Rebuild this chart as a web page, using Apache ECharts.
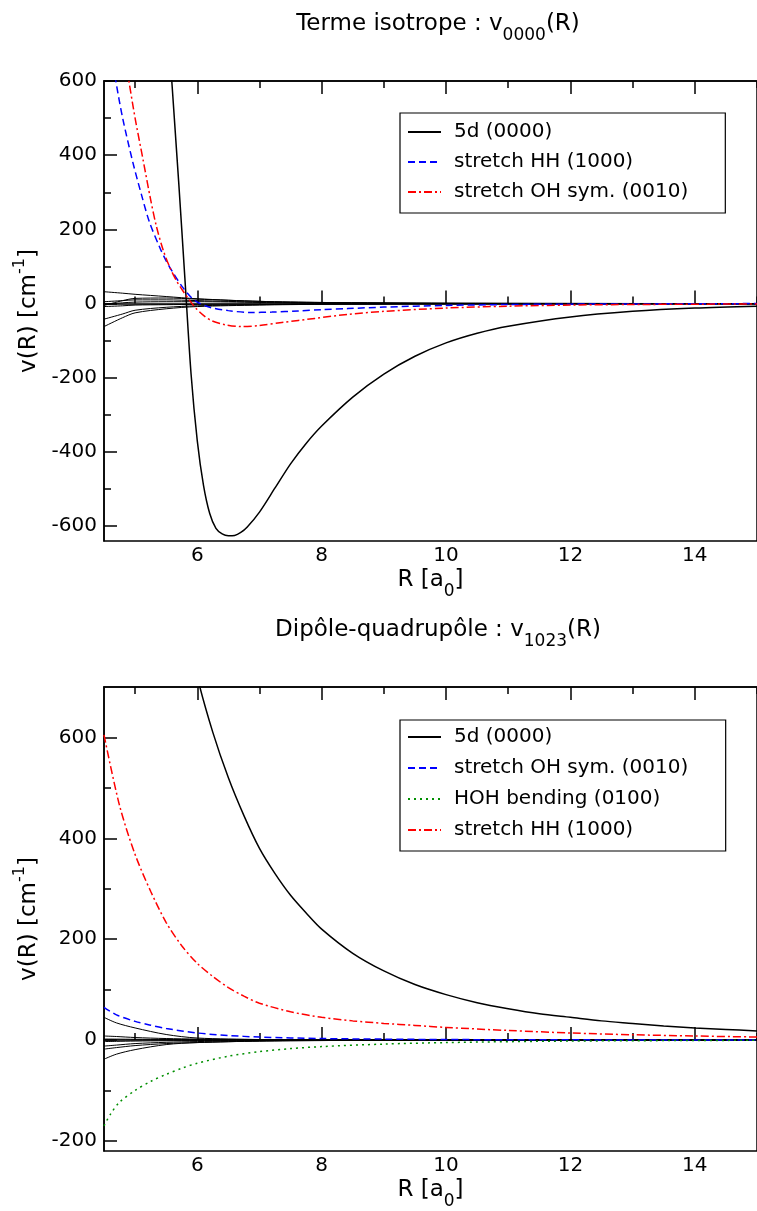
<!DOCTYPE html>
<html>
<head>
<meta charset="utf-8">
<script src="https://cdn.jsdelivr.net/npm/echarts@6/dist/echarts.min.js"></script>
<style>
html,body{margin:0;padding:0;background:#fff;}
#chart{width:757px;height:1211px;}
</style>
</head>
<body>
<div id="chart"></div>
<script>
// ---------------- DATA ----------------
// tick labels
const X_LABELS = [6, 8, 10, 12, 14];
const X_MINOR = [5, 7, 9, 11, 13, 15];
const Y_TOP_LABELS = [-600, -400, -200, 0, 200, 400, 600];
const Y_TOP_MINOR = [-500, -300, -100, 100, 300, 500];
const Y_BOT_LABELS = [-200, 0, 200, 400, 600];
const Y_BOT_MINOR = [-100, 100, 300, 500];

// ---- Top panel: Terme isotrope v0000(R)
const TOP_5D_R = [5.45, 5.59, 5.7, 5.8, 5.9, 6.0, 6.1, 6.2, 6.3, 6.4, 6.5, 6.6, 6.7, 6.8, 7.0, 7.25, 7.5, 7.75, 8.0, 8.5, 9.0, 9.5, 10, 10.5, 11, 12, 13, 14, 15];
const TOP_5D_V = [960, 600, 330, 70, -190, -370, -490, -566, -606, -621, -626, -625, -617, -603, -562, -497, -432, -377, -330, -252, -190, -142, -106, -80, -61, -36, -21, -12, -7];
const TOP_HH_R = [4.5, 4.69, 4.8, 4.965, 5.1, 5.23, 5.4, 5.5, 5.6, 5.76, 5.9, 6.0, 6.2, 6.5, 6.85, 7.2, 7.62, 8.0, 8.42, 9, 10, 11, 12, 13, 15];
const TOP_HH_V = [790, 600, 500, 380, 295, 220, 150, 115, 86, 45, 17, 4, -10, -19, -24, -23, -20, -16.5, -13.5, -9.5, -5, -2.5, -1.5, -1, 0];
const TOP_OH_R = [4.7, 4.9, 5.0, 5.13, 5.25, 5.34, 5.45, 5.56, 5.67, 5.77, 5.87, 5.97, 6.1, 6.24, 6.45, 6.72, 7.0, 7.36, 7.89, 8.42, 9, 10, 11, 12, 13, 15];
const TOP_OH_V = [800, 600, 500, 386, 280, 210, 145, 97, 60, 34, 10, -11, -32, -47, -57, -62, -59, -51, -40, -29, -21, -12, -7, -4, -2.5, -1];
// thin black lines (other components)
const TOP_THIN_R = [4.5, 4.8, 5.0, 5.5, 6.0, 7.0, 8.0, 10, 15];
const TOP_THIN_1 = [32, 28, 25, 19, 13, 6, 3, 1, 0];
const TOP_THIN_2 = [5, 8, 10, 10, 8, 4, 2, 0.5, 0];
const TOP_THIN_3 = [-5, 8, 14, 15, 12, 6, 3, 1, 0];
const TOP_THIN_4 = [-2, 2, 4, 5, 5, 3, 1, 0, 0];
const TOP_THIN_5 = [-42, -28, -18, -10, -6, -3, -1, 0, 0];
const TOP_THIN_6 = [-62, -38, -25, -14, -8, -4, -2, -0.5, 0];
const TOP_THIN_7 = [-8, -6, -4, -3, -2, -1.5, -1, -0.3, 0];

// ---- Bottom panel: Dipole-quadrupole v1023(R)
const BOT_5D_R = [5.75, 6.0, 6.25, 6.5, 6.75, 7.0, 7.25, 7.5, 7.75, 8.0, 8.5, 9.0, 9.5, 10, 10.5, 11, 11.5, 12, 12.5, 13, 13.5, 14, 14.5, 15];
const BOT_5D_V = [860, 720, 610, 520, 445, 380, 330, 287, 252, 220, 172, 137, 110, 90, 74, 62, 52, 45, 38, 33, 28, 24, 21, 18];
const BOT_OH_R = [4.5, 4.7, 5.0, 5.23, 5.5, 6.0, 6.5, 7.0, 8.0, 9.0, 10, 12, 15];
const BOT_OH_V = [65, 50, 37, 30, 23, 14, 9, 6, 3, 1.8, 1, 0.4, 0];
const BOT_BEND_R = [4.5, 4.6, 4.75, 5.0, 5.25, 5.5, 5.75, 6.0, 6.5, 7.0, 7.5, 8.0, 9.0, 10, 12, 15];
const BOT_BEND_V = [-170, -148, -123, -100, -82, -68, -56, -46, -32, -23, -17, -13, -8, -5, -2, -0.5];
const BOT_HH_R = [4.5, 4.75, 5.0, 5.25, 5.5, 5.75, 6.0, 6.25, 6.5, 6.75, 7.0, 7.5, 8.0, 8.5, 9, 9.5, 10, 11, 12, 13, 14, 15];
const BOT_HH_V = [605, 465, 368, 295, 233, 187, 152, 126, 104, 87, 73, 56, 45, 38, 33, 29, 25, 19, 14, 10.5, 8, 6];
const BOT_THIN_R = [4.5, 4.7, 5.0, 5.5, 6.0, 7.0, 8.0, 10, 15];
const BOT_THIN_1 = [45, 34, 24, 11, 4, 1, 0.3, 0, 0];
const BOT_THIN_2 = [8, 7, 5, 3, 2, 1, 0.5, 0, 0];
const BOT_THIN_3 = [2, 1.8, 1.5, 1.1, 0.8, 0.4, 0.2, 0, 0];
const BOT_THIN_4 = [-3, -2.6, -2, -1.4, -1, -0.5, -0.2, 0, 0];
const BOT_THIN_5 = [-12, -10, -7, -4.5, -3, -1.5, -0.5, 0, 0];
const BOT_THIN_6 = [-18, -15, -11, -7, -5, -2, -1, 0, 0];
const BOT_THIN_7 = [-38, -28, -19, -9, -5, -2, -1, 0, 0];

// ---------------- HELPERS ----------------
const FONT = 'DejaVu Sans';
function zip(rs, vs) { return rs.map((r, i) => [r, vs[i]]); }

const subRich = {
  t: { fontFamily: FONT, fontSize: 23, fontWeight: 'normal', color: '#000', lineHeight: 28, verticalAlign: 'top' },
  s: { fontFamily: FONT, fontSize: 17, fontWeight: 'normal', color: '#000', lineHeight: 17, padding: [14, 0, 0, 0], verticalAlign: 'top' }
};

function makeXAxes(gridIndex, withName) {
  const base = { type: 'value', gridIndex: gridIndex, min: 4.5, max: 15, splitLine: { show: false } };
  return [
    Object.assign({}, base, {
      position: 'bottom',
      axisLine: { show: true, lineStyle: { color: '#000', width: 1.5 } },
      axisTick: { show: true, inside: true, length: 13, customValues: X_LABELS, lineStyle: { color: '#000', width: 1.5 } },
      axisLabel: { show: true, customValues: X_LABELS, margin: 5, color: '#000', fontFamily: FONT, fontSize: 20 },
      name: withName ? '{t|R [a}{s|0}{t|]}' : '',
      nameLocation: 'middle',
      nameGap: 28,
      nameTextStyle: { color: '#000', fontFamily: FONT, verticalAlign: 'top', rich: subRich }
    }),
    Object.assign({}, base, {
      position: 'bottom',
      axisLine: { show: false },
      axisTick: { show: true, inside: true, length: 7, customValues: X_MINOR, lineStyle: { color: '#000', width: 1.5 } },
      axisLabel: { show: false }
    }),
    Object.assign({}, base, {
      position: 'top',
      axisLine: { show: true, lineStyle: { color: '#000', width: 1.5 } },
      axisTick: { show: true, inside: true, length: 13, customValues: X_LABELS, lineStyle: { color: '#000', width: 1.5 } },
      axisLabel: { show: false }
    }),
    Object.assign({}, base, {
      position: 'top',
      axisLine: { show: false },
      axisTick: { show: true, inside: true, length: 7, customValues: X_MINOR, lineStyle: { color: '#000', width: 1.5 } },
      axisLabel: { show: false }
    })
  ];
}

function makeYAxes(gridIndex, min, max, labels, minor) {
  const base = { type: 'value', gridIndex: gridIndex, min: min, max: max, splitLine: { show: false }, position: 'left' };
  return [
    Object.assign({}, base, {
      axisLine: { show: true, lineStyle: { color: '#000', width: 1.5 } },
      axisTick: { show: true, inside: true, length: 13, customValues: labels, lineStyle: { color: '#000', width: 1.5 } },
      axisLabel: { show: true, customValues: labels, margin: 7, color: '#000', fontFamily: FONT, fontSize: 20 },
      name: '{t|v(R) [cm}{p|-1}{t|]}',
      nameLocation: 'middle',
      nameRotate: 90,
      nameGap: 60,
      nameTextStyle: {
        color: '#000', fontFamily: FONT,
        rich: {
          t: { fontFamily: FONT, fontSize: 23, color: '#000', lineHeight: 28, verticalAlign: 'top', padding: [6, 0, 0, 0] },
          p: { fontFamily: FONT, fontSize: 16, color: '#000', lineHeight: 16, verticalAlign: 'top' }
        }
      }
    }),
    Object.assign({}, base, {
      axisLine: { show: false },
      axisTick: { show: true, inside: true, length: 7, customValues: minor, lineStyle: { color: '#000', width: 1.5 } },
      axisLabel: { show: false }
    })
  ];
}

function thin(xi, yi, rs, vs) {
  return { type: 'line', name: '_', xAxisIndex: xi, yAxisIndex: yi, data: zip(rs, vs), symbol: 'none', smooth: 0.3,
           lineStyle: { color: '#000', width: 1 }, silent: true, z: 1 };
}
function curve(name, xi, yi, rs, vs, color, width, type) {
  return { type: 'line', name: name, xAxisIndex: xi, yAxisIndex: yi, data: zip(rs, vs), symbol: 'none', smooth: 0.3,
           lineStyle: { color: color, width: width, type: type }, itemStyle: { color: color }, z: 3 };
}

const DASH = [7, 4];
const DASHDOT = [8, 3, 2, 3];
const DOT = [2, 4];

const legendText = { fontFamily: FONT, fontSize: 20, color: '#000', padding: [0, 0, 0, 8] };

const option = {
  backgroundColor: '#fff',
  animation: false,
  title: [
    {
      text: '{t|Terme isotrope : v}{s|0000}{t|(R)}',
      left: 433, top: 8, textAlign: 'center',
      textStyle: { fontWeight: 'normal', fontFamily: FONT, rich: subRich }
    },
    {
      text: '{t|Dipôle-quadrupôle : v}{s|1023}{t|(R)}',
      left: 433, top: 614, textAlign: 'center',
      textStyle: { fontWeight: 'normal', fontFamily: FONT, rich: subRich }
    }
  ],
  grid: [
    { left: 104, top: 81, width: 659, height: 460, show: true, borderColor: '#000', borderWidth: 1.5, backgroundColor: 'transparent' },
    { left: 104, top: 687, width: 659, height: 470, show: true, borderColor: '#000', borderWidth: 1.5, backgroundColor: 'transparent' }
  ],
  xAxis: [].concat(makeXAxes(0, true), makeXAxes(1, true)),
  yAxis: [].concat(makeYAxes(0, -640, 600, Y_TOP_LABELS, Y_TOP_MINOR), makeYAxes(1, -220, 700, Y_BOT_LABELS, Y_BOT_MINOR)),
  legend: [
    {
      data: ['5d (0000)', 'stretch HH (1000)', 'stretch OH sym. (0010)'],
      orient: 'vertical', left: 400, top: 113,
      itemWidth: 33, itemHeight: 20, itemGap: 10,
      padding: [9, 37, 11, 7],
      itemStyle: { opacity: 0, borderWidth: 0 },
      borderColor: '#000', borderWidth: 1.2, backgroundColor: '#fff',
      textStyle: legendText, selectedMode: false
    },
    {
      data: ['5d (0000) ', 'stretch OH sym. (0010) ', 'HOH bending (0100)', 'stretch HH (1000) '],
      orient: 'vertical', left: 400, top: 720,
      itemWidth: 33, itemHeight: 20, itemGap: 11,
      padding: [7, 31, 11, 7],
      itemStyle: { opacity: 0, borderWidth: 0 },
      borderColor: '#000', borderWidth: 1.2, backgroundColor: '#fff',
      textStyle: legendText, selectedMode: false
    }
  ],
  series: [
    thin(0, 0, TOP_THIN_R, TOP_THIN_1),
    thin(0, 0, TOP_THIN_R, TOP_THIN_2),
    thin(0, 0, TOP_THIN_R, TOP_THIN_3),
    thin(0, 0, TOP_THIN_R, TOP_THIN_4),
    thin(0, 0, TOP_THIN_R, TOP_THIN_5),
    thin(0, 0, TOP_THIN_R, TOP_THIN_6),
    thin(0, 0, TOP_THIN_R, TOP_THIN_7),
    curve('5d (0000)', 0, 0, TOP_5D_R, TOP_5D_V, '#000000', 1.5, 'solid'),
    curve('stretch HH (1000)', 0, 0, TOP_HH_R, TOP_HH_V, '#0000ff', 1.5, DASH),
    curve('stretch OH sym. (0010)', 0, 0, TOP_OH_R, TOP_OH_V, '#ff0000', 1.5, DASHDOT),

    thin(4, 2, BOT_THIN_R, BOT_THIN_1),
    thin(4, 2, BOT_THIN_R, BOT_THIN_2),
    thin(4, 2, BOT_THIN_R, BOT_THIN_3),
    thin(4, 2, BOT_THIN_R, BOT_THIN_4),
    thin(4, 2, BOT_THIN_R, BOT_THIN_5),
    thin(4, 2, BOT_THIN_R, BOT_THIN_6),
    thin(4, 2, BOT_THIN_R, BOT_THIN_7),
    curve('5d (0000) ', 4, 2, BOT_5D_R, BOT_5D_V, '#000000', 1.5, 'solid'),
    curve('stretch OH sym. (0010) ', 4, 2, BOT_OH_R, BOT_OH_V, '#0000ff', 1.5, DASH),
    curve('HOH bending (0100)', 4, 2, BOT_BEND_R, BOT_BEND_V, '#008f00', 1.5, DOT),
    curve('stretch HH (1000) ', 4, 2, BOT_HH_R, BOT_HH_V, '#ff0000', 1.5, DASHDOT)
  ]
};

const chart = echarts.init(document.getElementById('chart'), null, { renderer: 'canvas' });
chart.setOption(option);
</script>
</body>
</html>
